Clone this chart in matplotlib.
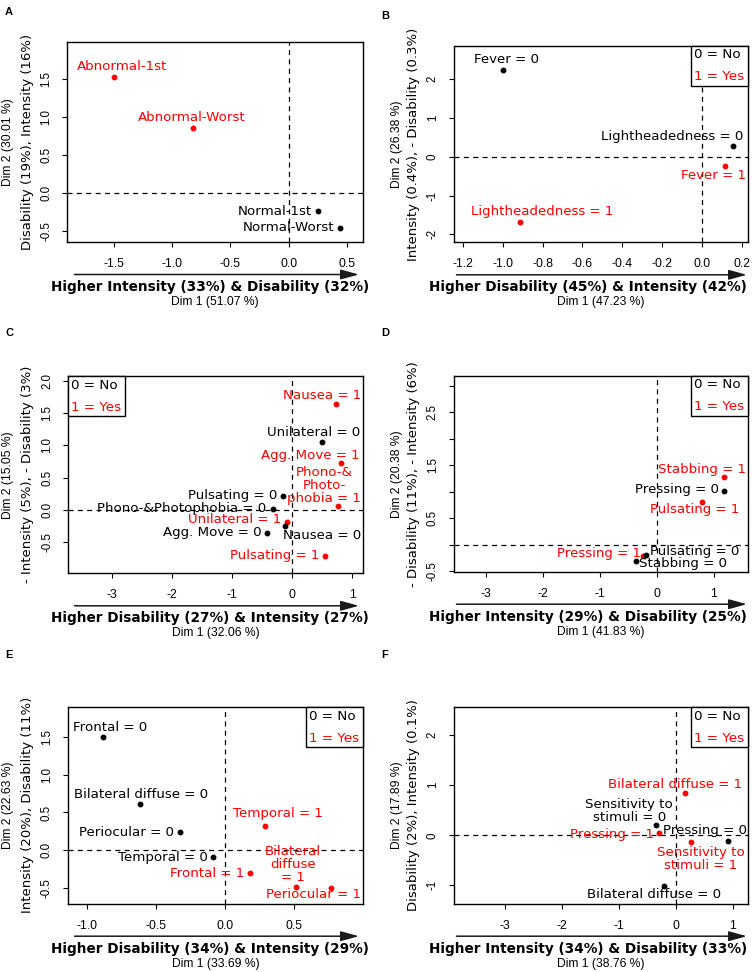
import matplotlib
matplotlib.use("Agg")
import matplotlib.pyplot as plt
from matplotlib.patches import Rectangle, FancyArrowPatch

# ---- data (coordinates of the category points) ----
a_names = ["Abnormal-1st", "Abnormal-Worst", "Normal-1st", "Normal-Worst"]
a_dim1 = [-1.50, -0.82, 0.25, 0.44]
a_dim2 = [1.53, 0.86, -0.24, -0.46]
a_level = [1, 1, 0, 0]

b_names = ["Fever = 0", "Lightheadedness = 0", "Fever = 1", "Lightheadedness = 1"]
b_dim1 = [-1.00, 0.155, 0.116, -0.915]
b_dim2 = [2.24, 0.29, -0.24, -1.69]
b_level = [0, 0, 1, 1]

c_names = ["Nausea = 1", "Unilateral = 0", "Agg. Move = 1", "Phono-&\nPhoto-\nphobia = 1",
           "Pulsating = 0", "Phono-&Photophobia = 0", "Unilateral = 1", "Nausea = 0",
           "Agg. Move = 0", "Pulsating = 1"]
c_dim1 = [0.73, 0.49, 0.82, 0.77, -0.15, -0.32, -0.09, -0.12, -0.42, 0.55]
c_dim2 = [1.64, 1.05, 0.72, 0.06, 0.22, 0.01, -0.18, -0.24, -0.35, -0.71]
c_level = [1, 0, 1, 1, 0, 0, 1, 0, 0, 1]

d_names = ["Stabbing = 1", "Pressing = 0", "Pulsating = 1", "Pressing = 1",
           "Pulsating = 0", "Stabbing = 0"]
d_dim1 = [1.19, 1.19, 0.80, -0.24, -0.19, -0.37]
d_dim2 = [1.28, 1.02, 0.80, -0.21, -0.19, -0.30]
d_level = [1, 0, 1, 1, 0, 0]

e_names = ["Frontal = 0", "Bilateral diffuse = 0", "Periocular = 0", "Temporal = 0",
           "Temporal = 1", "Frontal = 1", "Bilateral\ndiffuse\n= 1", "Periocular = 1"]
e_dim1 = [-0.88, -0.615, -0.326, -0.09, 0.288, 0.18, 0.512, 0.765]
e_dim2 = [1.50, 0.613, 0.238, -0.089, 0.325, -0.30, -0.49, -0.50]
e_level = [0, 0, 0, 0, 1, 1, 1, 1]

f_names = ["Bilateral diffuse = 1", "Sensitivity to\nstimuli = 0", "Pressing = 1",
           "Sensitivity to\nstimuli = 1", "Pressing = 0", "Bilateral diffuse = 0"]
f_dim1 = [0.167, -0.348, -0.29, 0.268, 0.913, -0.202]
f_dim2 = [0.846, 0.20, 0.04, -0.14, -0.105, -1.008]
f_level = [1, 0, 1, 1, 0, 0]

# label placement (data coords of label centres)
a_lab = [(-1.43, 1.66), (-0.83, 1.00), (-0.12, -0.24), (0.0, -0.46)]
b_lab = [(-0.98, 2.50), (-0.147, 0.52), (0.059, -0.47), (-0.80, -1.42)]
c_lab = [(0.50, 1.77), (0.35, 1.20), (0.31, 0.85), (0.53, 0.38), (-0.99, 0.22),
         (-1.84, 0.03), (-0.95, -0.14), (0.50, -0.40), (-1.33, -0.35), (-0.29, -0.71)]
d_lab = [(0.79, 1.42), (0.35, 1.05), (0.67, 0.67), (-1.01, -0.17), (0.67, -0.125), (0.47, -0.36)]
e_lab = [(-0.83, 1.63), (-0.61, 0.74), (-0.71, 0.24), (-0.45, -0.09), (0.38, 0.48),
         (-0.13, -0.31), (0.49, -0.19), (0.64, -0.59)]
f_lab = [(-0.02, 1.01), (-0.82, 0.49), (-1.13, 0.012), (0.44, -0.48), (0.52, 0.09), (-0.38, -1.19)]

# axis texts
x_titles = ["Higher Intensity (33%) & Disability (32%)", "Higher Disability (45%) & Intensity (42%)",
            "Higher Disability (27%) & Intensity (27%)", "Higher Intensity (29%) & Disability (25%)",
            "Higher Disability (34%) & Intensity (29%)", "Higher Intensity (34%) & Disability (33%)"]
dim1_titles = ["Dim 1 (51.07 %)", "Dim 1 (47.23 %)", "Dim 1 (32.06 %)",
               "Dim 1 (41.83 %)", "Dim 1 (33.69 %)", "Dim 1 (38.76 %)"]
y_titles = ["Disability (19%), Intensity (16%)", "Intensity (0.4%), - Disability (0.3%)",
            "- Intensity (5%), - Disability (3%)", "- Disability (11%), - Intensity (6%)",
            "Intensity (20%), Disability (11%)", "Disability (2%), Intensity (0.1%)"]
dim2_titles = ["Dim 2 (30.01 %)", "Dim 2 (26.38 %)", "Dim 2 (15.05 %)",
               "Dim 2 (20.38 %)", "Dim 2 (22.63 %)", "Dim 2 (17.89 %)"]
letters = ["A", "B", "C", "D", "E", "F"]

x_ticks = [[-1.5, -1.0, -0.5, 0.0, 0.5],
           [-1.2, -1.0, -0.8, -0.6, -0.4, -0.2, 0.0, 0.2],
           [-3, -2, -1, 0, 1], [-3, -2, -1, 0, 1],
           [-1.0, -0.5, 0.0, 0.5], [-3, -2, -1, 0, 1]]
x_ticklabels = [["-1.5", "-1.0", "-0.5", "0.0", "0.5"],
                ["-1.2", "-1.0", "-0.8", "-0.6", "-0.4", "-0.2", "0.0", "0.2"],
                ["-3", "-2", "-1", "0", "1"], ["-3", "-2", "-1", "0", "1"],
                ["-1.0", "-0.5", "0.0", "0.5"], ["-3", "-2", "-1", "0", "1"]]
y_ticks = [[-0.5, 0.0, 0.5, 1.0, 1.5],
           [-2, -1, 0, 1, 2],
           [-0.5, 0.0, 0.5, 1.0, 1.5, 2.0],
           [-0.5, 0.0, 0.5, 1.0, 1.5, 2.0, 2.5, 3.0],
           [-0.5, 0.0, 0.5, 1.0, 1.5],
           [-1, 0, 1, 2]]
y_ticklabels = [["-0.5", "0.0", "0.5", "1.0", "1.5"],
                ["-2", "-1", "0", "1", "2"],
                ["-0.5", "0.0", "0.5", "1.0", "1.5", "2.0"],
                ["-0.5", "", "0.5", "", "1.5", "", "2.5", ""],
                ["-0.5", "0.0", "0.5", "1.0", "1.5"],
                ["-1", "0", "1", "2"]]
x_lims = [(-1.90, 0.635), (-1.248, 0.230), (-3.721, 1.173),
          (-3.567, 1.608), (-1.137, 0.999), (-3.908, 1.274)]
y_lims = [(-0.645, 1.987), (-2.206, 2.867), (-0.979, 2.068),
          (-0.507, 3.186), (-0.708, 1.897), (-1.368, 2.566)]

# frames in pixels (left, top, right, bottom) and legend corner
frames = [(67, 42, 363, 242), (453.5, 45.7, 747.7, 242.3),
          (68.3, 376.3, 362.7, 573.3), (453.5, 375.7, 748.3, 571.7),
          (67.7, 707, 363.3, 903.7), (453.5, 707, 748.3, 903.7)]
legend_pos = [None, "right", "left", "right", "right", "right"]

all_names = [a_names, b_names, c_names, d_names, e_names, f_names]
all_dim1 = [a_dim1, b_dim1, c_dim1, d_dim1, e_dim1, f_dim1]
all_dim2 = [a_dim2, b_dim2, c_dim2, d_dim2, e_dim2, f_dim2]
all_level = [a_level, b_level, c_level, d_level, e_level, f_level]
all_lab = [a_lab, b_lab, c_lab, d_lab, e_lab, f_lab]

W, H = 752, 972
RED = "#ff0000"
colors = {0: "black", 1: RED}
sans = "Liberation Sans"
dejavu = "DejaVu Sans"


def fx(x):
    return x / W


def fy(y):
    return 1 - y / H


fig = plt.figure(figsize=(W / 100, H / 100), dpi=100)

for i in range(6):
    l, t, r, b = frames[i]
    ax = fig.add_axes([fx(l), fy(b), (r - l) / W, (b - t) / H])
    ax.set_xlim(x_lims[i])
    ax.set_ylim(y_lims[i])
    for s in ax.spines.values():
        s.set_linewidth(1.0)
    ax.axhline(0, color="black", lw=0.9, ls=(0, (4, 3.5)), zorder=1)
    ax.axvline(0, color="black", lw=0.9, ls=(0, (4, 3.5)), zorder=1)

    ax.set_xticks(x_ticks[i])
    ax.set_xticklabels(x_ticklabels[i], fontsize=8.8, family=sans)
    ax.set_yticks(y_ticks[i])
    ax.set_yticklabels(y_ticklabels[i], fontsize=8.3, family=sans, rotation=90, va="center")
    ax.tick_params(axis="x", direction="out", length=3.6, width=0.8, pad=8)
    ax.tick_params(axis="y", direction="out", length=3.6, width=0.8, pad=7)

    # points and labels
    for name, x, y, lev, (lx, ly) in zip(all_names[i], all_dim1[i], all_dim2[i],
                                         all_level[i], all_lab[i]):
        ax.plot(x, y, "o", ms=3.2, color=colors[lev], zorder=3)
        ax.text(lx, ly, name, ha="center", va="center", fontsize=9.6, family=dejavu,
                color=colors[lev], linespacing=1.0, zorder=4)

    # legend box
    if legend_pos[i] is not None:
        bw, bh = 57, 40
        bx = r - bw if legend_pos[i] == "right" else l
        fig.patches.append(Rectangle((fx(bx), fy(t + bh)), bw / W, bh / H,
                                     transform=fig.transFigure, facecolor="white",
                                     edgecolor="black", lw=1.0, zorder=5))
        fig.text(fx(bx + 3), fy(t + 9), "0 = No", fontsize=9.7, family=dejavu,
                 ha="left", va="center", color="black", zorder=6)
        fig.text(fx(bx + 3), fy(t + 31), "1 = Yes", fontsize=9.7, family=dejavu,
                 ha="left", va="center", color=RED, zorder=6)

    # arrow + axis titles
    px0 = 0 if i % 2 == 0 else 376
    cx = (l + r) / 2
    arr = FancyArrowPatch((fx(px0 + 71.7 + (6 if i % 2 else 0)), fy(b + 32.5)),
                          (fx(px0 + 361.7 + (12 if i % 2 else 0)), fy(b + 32.5)),
                          transform=fig.transFigure,
                          arrowstyle="-|>,head_length=1.1,head_width=0.3",
                          mutation_scale=10, lw=1.1, color="#1a1a1a")
    fig.patches.append(arr)
    fig.text(fx(px0 + (210 if i % 2 == 0 else 211.7)), fy(b + 45), x_titles[i],
             fontsize=9.8, fontweight="bold", family=dejavu, ha="center", va="center")
    fig.text(fx(cx), fy(b + 60), dim1_titles[i], fontsize=8.7, family=sans,
             ha="center", va="center")
    cy = (t + b) / 2
    fig.text(fx(px0 + (28 if i % 2 == 0 else 37)), fy(cy), y_titles[i], fontsize=9.5,
             family=dejavu, rotation=90, ha="center", va="center")
    fig.text(fx(px0 + (8.5 if i % 2 == 0 else 21)), fy(cy), dim2_titles[i], fontsize=8.7,
             family=sans, rotation=90, ha="center", va="center")
    fig.text(fx(px0 + 5), fy(t - 30 if i < 2 else t - 43 if i < 4 else t - 52),
             letters[i], fontsize=8, fontweight="bold", family=sans, ha="left", va="center")

fig.savefig("out.png", dpi=100)
